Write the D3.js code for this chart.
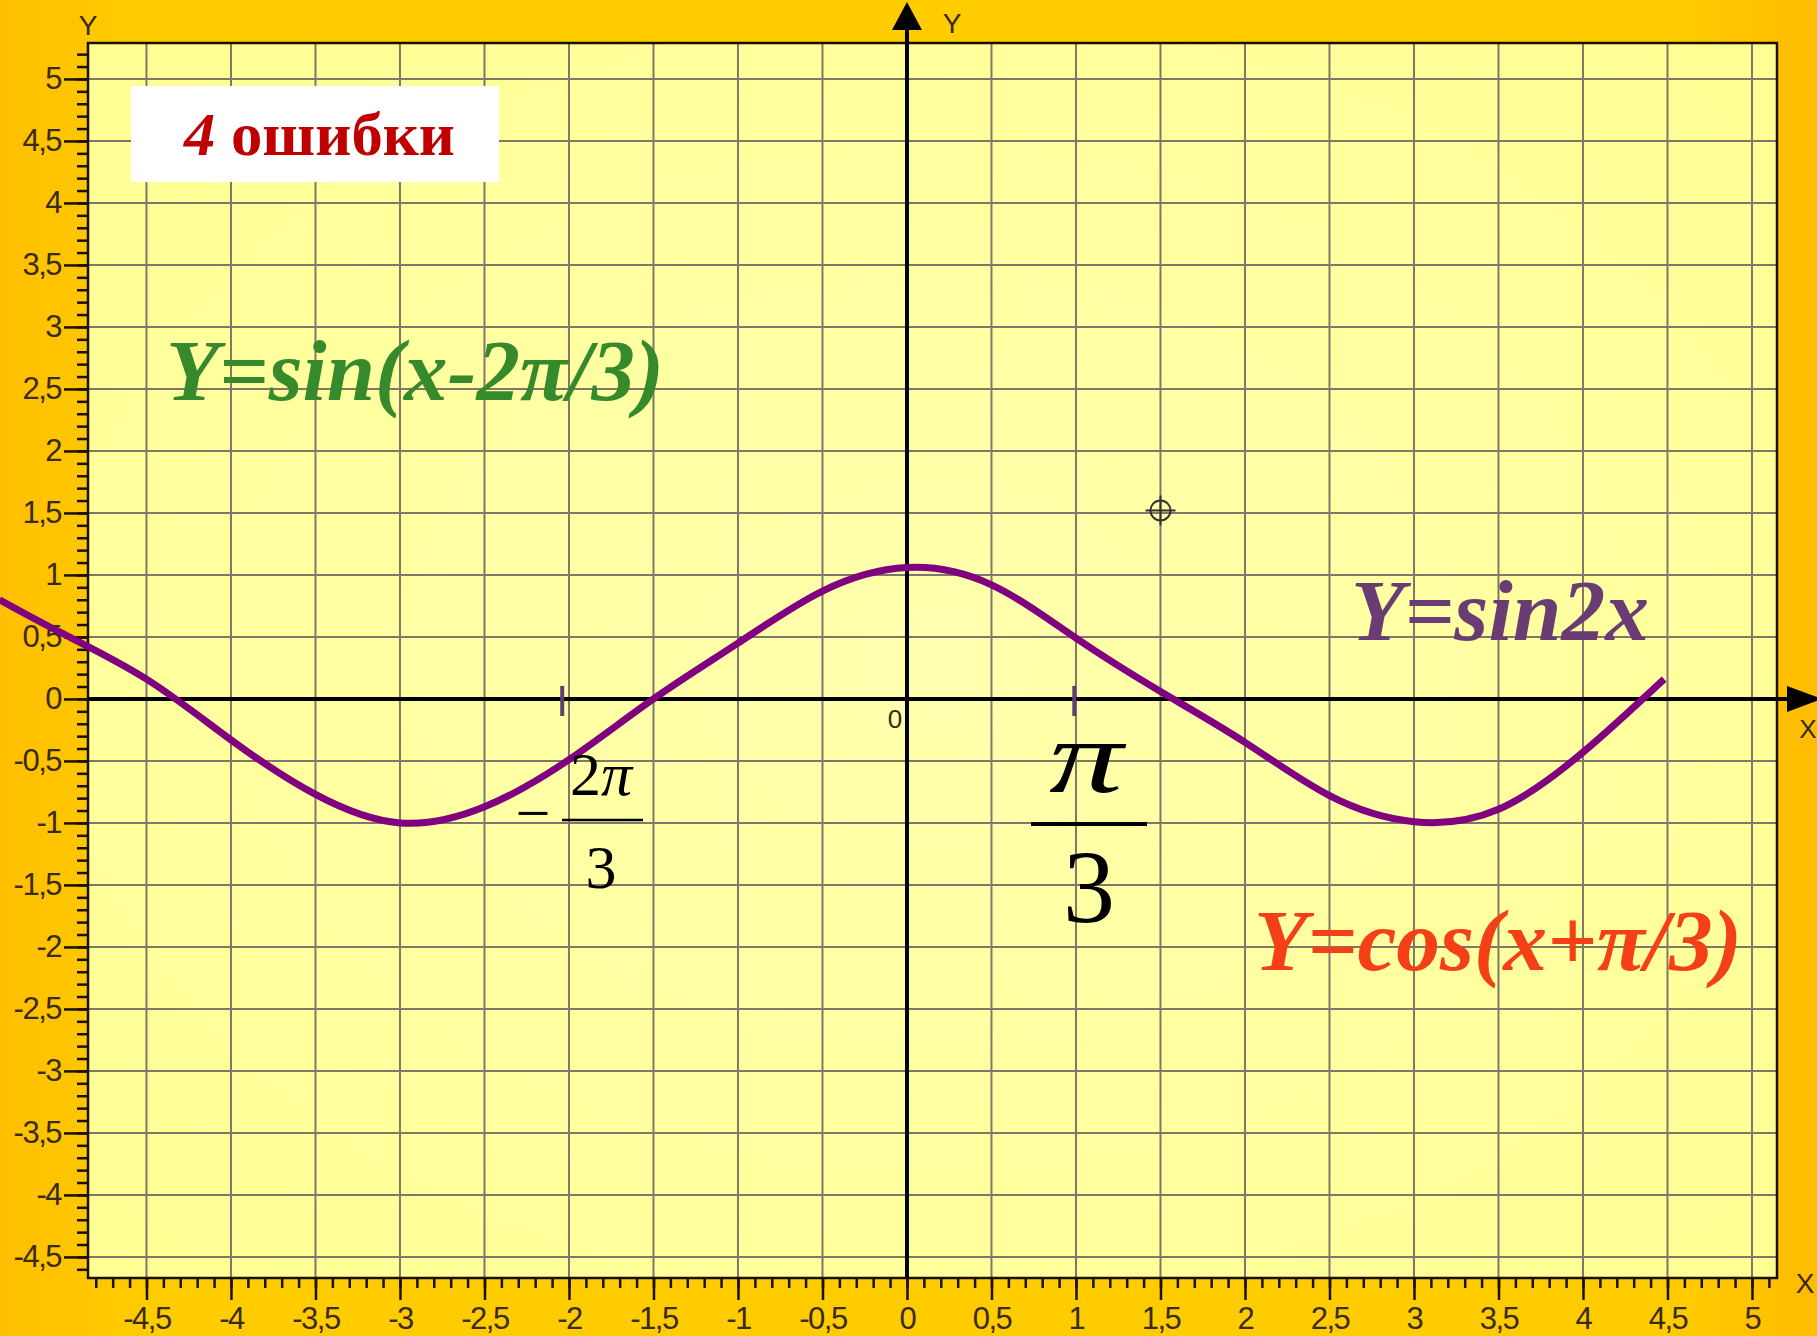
<!DOCTYPE html>
<html>
<head>
<meta charset="utf-8">
<script src="https://cdn.jsdelivr.net/npm/d3@7"></script>
<style>
  body { margin: 0; background: #ffc800; }
  svg { display: block; }
</style>
</head>
<body>
<div id="chart"></div>
<script>
// Кривая (x, y в единицах графика)
const curveX = [-5.37, -5.0, -4.5, -4.0, -3.5, -3.0, -2.5, -2.0, -1.5, -1.0, -0.5, 0.0, 0.5, 1.0, 1.5, 2.0, 2.5, 3.0, 3.5, 4.0, 4.48];
const curveY = [0.80, 0.53, 0.16, -0.33, -0.77, -1.0, -0.87, -0.49, 0.0, 0.45, 0.87, 1.06, 0.92, 0.49, 0.06, -0.35, -0.78, -0.99, -0.89, -0.43, 0.16];

// Подписи делений
const xTicks = [-4.5, -4, -3.5, -3, -2.5, -2, -1.5, -1, -0.5, 0, 0.5, 1, 1.5, 2, 2.5, 3, 3.5, 4, 4.5, 5];
const yTicks = [-4.5, -4, -3.5, -3, -2.5, -2, -1.5, -1, -0.5, 0, 0.5, 1, 1.5, 2, 2.5, 3, 3.5, 4, 4.5, 5];

// Отметки -2π/3 и π/3 на оси X, точка-прицел
const markX = [-2.04, 0.99];
const pointX = [1.5];
const pointY = [1.52];

const W = 1817, H = 1336;

const x = d3.scaleLinear().domain([-4.846, 5.148]).range([88, 1777]);
const y = d3.scaleLinear().domain([-4.67, 5.29]).range([1278, 43]);

const fmt = d => String(d).replace(".", ",");
const minorX = d3.range(-48, 52).map(d => d / 10);
const minorY = d3.range(-46, 53).map(d => d / 10);

const svg = d3.select("#chart")
  .append("svg")
  .attr("width", W)
  .attr("height", H);

// Градиенты фона
const defs = svg.append("defs");
const bg = defs.append("linearGradient").attr("id", "bg").attr("x1", 0).attr("x2", 1).attr("y1", 0).attr("y2", 0);
bg.append("stop").attr("offset", "0%").attr("stop-color", "#ffbf00");
bg.append("stop").attr("offset", "8%").attr("stop-color", "#ffcc00");
bg.append("stop").attr("offset", "92%").attr("stop-color", "#ffcc00");
bg.append("stop").attr("offset", "100%").attr("stop-color", "#ffbb00");

const pbg = defs.append("radialGradient").attr("id", "pbg").attr("cx", "50%").attr("cy", "50%").attr("r", "70%");
pbg.append("stop").attr("offset", "0%").attr("stop-color", "#ffffae");
pbg.append("stop").attr("offset", "100%").attr("stop-color", "#ffff94");

svg.append("rect").attr("width", W).attr("height", H).attr("fill", "url(#bg)");

const [x0, x1] = x.range();
const [y0, y1] = y.range();

// Поле графика
svg.append("rect")
  .attr("x", x0).attr("y", y1)
  .attr("width", x1 - x0).attr("height", y0 - y1)
  .attr("fill", "url(#pbg)");

// Сетка
svg.append("g").selectAll("line")
  .data(xTicks)
  .join("line")
  .attr("x1", d => x(d)).attr("x2", d => x(d))
  .attr("y1", y1).attr("y2", y0)
  .attr("stroke", "#7f786a")
  .attr("stroke-width", 2);

svg.append("g").selectAll("line")
  .data(yTicks)
  .join("line")
  .attr("x1", x0).attr("x2", x1)
  .attr("y1", d => y(d)).attr("y2", d => y(d))
  .attr("stroke", "#7f786a")
  .attr("stroke-width", 2);

// Рамка
svg.append("rect")
  .attr("x", x0).attr("y", y1)
  .attr("width", x1 - x0).attr("height", y0 - y1)
  .attr("fill", "none")
  .attr("stroke", "#1a1000")
  .attr("stroke-width", 2.5);

// Оси со шкалами
function styleAxis(g, size) {
  g.select(".domain").remove();
  g.attr("font-family", "'Liberation Sans', Arial, sans-serif").attr("font-size", size);
  g.selectAll("line").attr("stroke", "#1a1000").attr("stroke-width", 2.5);
  g.selectAll("text").attr("fill", "#3b2a14").attr("letter-spacing", -1.5);
}

svg.append("g")
  .attr("transform", `translate(${x0},0)`)
  .call(d3.axisLeft(y).tickValues(minorY).tickSize(11).tickFormat(""))
  .call(g => styleAxis(g, 31));

svg.append("g")
  .attr("transform", `translate(${x0},0)`)
  .call(d3.axisLeft(y).tickValues(yTicks).tickSize(24).tickPadding(3).tickFormat(fmt))
  .call(g => styleAxis(g, 31));

svg.append("g")
  .attr("transform", `translate(0,${y0})`)
  .call(d3.axisBottom(x).tickValues(minorX).tickSize(10).tickFormat(""))
  .call(g => styleAxis(g, 31));

svg.append("g")
  .attr("transform", `translate(0,${y0})`)
  .call(d3.axisBottom(x).tickValues(xTicks).tickSize(22).tickPadding(7).tickFormat(fmt))
  .call(g => styleAxis(g, 31));

// Оси координат
svg.append("line")
  .attr("x1", x0).attr("x2", 1790)
  .attr("y1", y(0)).attr("y2", y(0))
  .attr("stroke", "#000").attr("stroke-width", 4);

svg.append("line")
  .attr("x1", x(0)).attr("x2", x(0))
  .attr("y1", y0).attr("y2", 26)
  .attr("stroke", "#000").attr("stroke-width", 4);

svg.append("path")
  .attr("d", `M${x(0)},2 L${x(0) - 15},30 L${x(0) + 15},30 Z`)
  .attr("fill", "#000");

svg.append("path")
  .attr("d", `M1787,${y(0) - 13} L1822,${y(0)} L1787,${y(0) + 13} Z`)
  .attr("fill", "#000");

// Подписи осей
const axisLabel = (tx, ty, s, size) => svg.append("text")
  .attr("x", tx).attr("y", ty)
  .attr("text-anchor", "middle")
  .attr("font-family", "'Liberation Sans', Arial, sans-serif")
  .attr("font-size", size)
  .attr("fill", "#3b2a14")
  .text(s);

axisLabel(88, 35, "Y", 28);
axisLabel(952, 33, "Y", 28);
axisLabel(1808, 738, "X", 26);
axisLabel(1805, 1293, "X", 28);
axisLabel(x(0) - 12, 728, "0", 26);

// Отметки на оси X
svg.append("g").selectAll("line")
  .data(markX)
  .join("line")
  .attr("x1", d => x(d)).attr("x2", d => x(d))
  .attr("y1", y(0) - 13).attr("y2", y(0) + 17)
  .attr("stroke", "#5d3f73")
  .attr("stroke-width", 4);

// Кривая
const line = d3.line()
  .x(d => x(d[0]))
  .y(d => y(d[1]))
  .curve(d3.curveNatural);

svg.append("path")
  .datum(d3.zip(curveX, curveY))
  .attr("fill", "none")
  .attr("stroke", "#800080")
  .attr("stroke-width", 7)
  .attr("d", line);

// Прицел
const cross = svg.append("g").selectAll("g")
  .data(d3.zip(pointX, pointY))
  .join("g")
  .attr("transform", d => `translate(${x(d[0])},${y(d[1])})`)
  .attr("stroke", "#333")
  .attr("stroke-width", 2)
  .attr("fill", "none");
cross.append("circle").attr("r", 10);
cross.append("line").attr("x1", -15).attr("x2", 15);
cross.append("line").attr("y1", -15).attr("y2", 15);

// Заголовок
svg.append("rect")
  .attr("x", 131).attr("y", 86)
  .attr("width", 368).attr("height", 96)
  .attr("fill", "#fff");

const head = svg.append("text")
  .attr("x", 184).attr("y", 155)
  .attr("font-family", "'Liberation Serif', 'Times New Roman', serif")
  .attr("font-size", 62)
  .attr("font-weight", "bold")
  .attr("fill", "#c00000")
  .attr("textLength", 271)
  .attr("lengthAdjust", "spacingAndGlyphs");
head.append("tspan").attr("font-style", "italic").text("4");
head.append("tspan").text(" ошибки");

// Формулы
const formula = (tx, ty, len, color, s) => svg.append("text")
  .attr("x", tx).attr("y", ty)
  .attr("font-family", "'Liberation Serif', 'Times New Roman', serif")
  .attr("font-size", 86)
  .attr("font-weight", "bold")
  .attr("font-style", "italic")
  .attr("fill", color)
  .attr("textLength", len)
  .attr("lengthAdjust", "spacingAndGlyphs")
  .text(s);

formula(166, 400, 498, "#368a2c", "Y=sin(x-2π/3)");
formula(1351, 640, 298, "#693c74", "Y=sin2x");
formula(1254, 970, 488, "#f43f17", "Y=cos(x+π/3)");

// Дроби -2π/3 и π/3
const serif = "'Liberation Serif', 'Times New Roman', serif";
svg.append("text").attr("x", 533).attr("y", 834).attr("text-anchor", "middle")
  .attr("font-family", serif).attr("font-size", 62).attr("fill", "#000").text("−");
const t2pi = svg.append("text").attr("x", 601).attr("y", 795).attr("text-anchor", "middle")
  .attr("font-family", serif).attr("font-size", 62).attr("fill", "#000");
t2pi.append("tspan").text("2");
t2pi.append("tspan").attr("font-style", "italic").text("π");
svg.append("line").attr("x1", 562).attr("x2", 643).attr("y1", 820).attr("y2", 820)
  .attr("stroke", "#000").attr("stroke-width", 2.5);
svg.append("text").attr("x", 601).attr("y", 888).attr("text-anchor", "middle")
  .attr("font-family", serif).attr("font-size", 62).attr("fill", "#000").text("3");

svg.append("text").attr("x", 1049).attr("y", 792)
  .attr("font-family", serif).attr("font-size", 104).attr("font-style", "italic")
  .attr("fill", "#000")
  .attr("textLength", 74).attr("lengthAdjust", "spacingAndGlyphs")
  .text("π");
svg.append("line").attr("x1", 1031).attr("x2", 1147).attr("y1", 824).attr("y2", 824)
  .attr("stroke", "#000").attr("stroke-width", 4);
svg.append("text").attr("x", 1089).attr("y", 922).attr("text-anchor", "middle")
  .attr("font-family", serif).attr("font-size", 104).attr("fill", "#000").text("3");
</script>
</body>
</html>
